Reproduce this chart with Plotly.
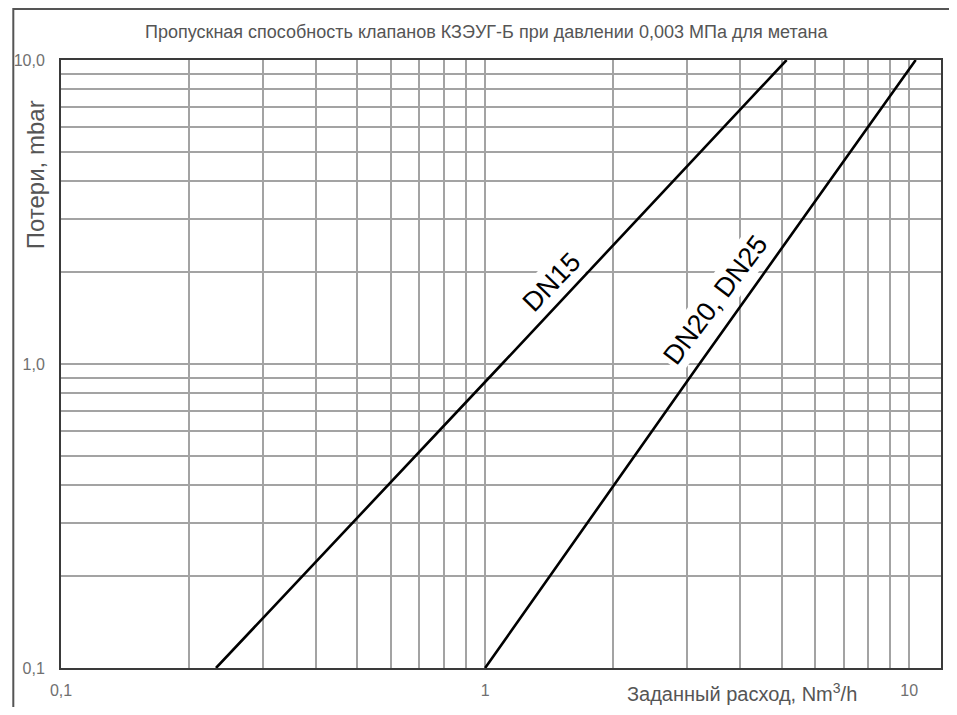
import plotly.graph_objects as go

# ---- data ----
dn15_q = [0.232, 1.096, 5.14]
dn15_dp = [0.1, 1.0, 10.0]
dn20_q = [1.0, 3.2, 10.36]
dn20_dp = [0.1, 1.0, 10.0]

x_tickvals = [0.1, 0.2, 0.3, 0.4, 0.5, 0.6, 0.7, 0.8, 0.9,
              1, 2, 3, 4, 5, 6, 7, 8, 9, 10]
x_ticktext = ["0,1", "", "", "", "", "", "", "", "",
              "1", "", "", "", "", "", "", "", "", "10"]
y_tickvals = [0.1, 0.2, 0.3, 0.4, 0.5, 0.6, 0.7, 0.8, 0.9,
              1, 2, 3, 4, 5, 6, 7, 8, 9, 10]
y_ticktext = ["0,1", "", "", "", "", "", "", "", "",
              "1,0", "", "", "", "", "", "", "", "", "10,0"]

title_text = "Пропускная способность клапанов КЗЭУГ-Б при давлении 0,003 МПа для метана"
x_title = "Заданный расход, Nm<sup>3</sup>/h"
y_title = "Потери, mbar"
label_dn15 = "DN15"
label_dn20 = "DN20, DN25"

FONT = "Liberation Sans, Arial, sans-serif"
GRID = "#a3a3a3"

fig = go.Figure()
fig.add_trace(go.Scatter(x=dn15_q, y=dn15_dp, mode="lines",
                         line=dict(color="black", width=2.6), showlegend=False))
fig.add_trace(go.Scatter(x=dn20_q, y=dn20_dp, mode="lines",
                         line=dict(color="black", width=2.6), showlegend=False))

fig.update_xaxes(type="log", range=[-1, 1.075],
                 tickvals=x_tickvals, ticktext=x_ticktext,
                 showgrid=True, gridcolor=GRID, gridwidth=1.5,
                 showline=True, mirror=True, linecolor="#3a3a3a", linewidth=2,
                 ticks="outside", ticklen=7, tickcolor="rgba(0,0,0,0)",
                 tickfont=dict(family=FONT, size=16, color="#707070"),
                 zeroline=False)
fig.update_yaxes(type="log", range=[-1, 1],
                 tickvals=y_tickvals, ticktext=y_ticktext,
                 showgrid=True, gridcolor=GRID, gridwidth=1.5,
                 showline=True, mirror=True, linecolor="#3a3a3a", linewidth=2,
                 ticks="outside", ticklen=11, tickcolor="rgba(0,0,0,0)",
                 tickfont=dict(family=FONT, size=16, color="#707070"),
                 zeroline=False)

annotations = [
    dict(text=title_text, xref="paper", yref="paper", x=0.484, y=1.046,
         xanchor="center", yanchor="middle", showarrow=False,
         font=dict(family=FONT, size=18, color="#555555")),
    dict(text=x_title, xref="paper", yref="paper", x=0.774, y=-0.041,
         xanchor="center", yanchor="middle", showarrow=False,
         font=dict(family=FONT, size=20, color="#555555")),
    dict(text=y_title, xref="paper", yref="paper", x=-0.028, y=0.811,
         xanchor="center", yanchor="middle", showarrow=False, textangle=-90,
         font=dict(family=FONT, size=24, color="#555555")),
    dict(text=label_dn15, xref="x", yref="y", x=0.157, y=0.270,
         xanchor="center", yanchor="middle", showarrow=False, textangle=-46,
         bgcolor="white", borderpad=2,
         font=dict(family=FONT, size=27, color="black")),
    dict(text=label_dn20, xref="x", yref="y", x=0.543, y=0.2105,
         xanchor="center", yanchor="middle", showarrow=False, textangle=-53,
         bgcolor="white", borderpad=2,
         font=dict(family=FONT, size=27, color="black")),
]

shapes = [
    dict(type="rect", xref="paper", yref="paper",
         x0=-0.0542, x1=1.3, y0=-0.3, y1=1.0839,
         line=dict(color="#555555", width=2), layer="below"),
]

fig.update_layout(
    width=941, height=699,
    margin=dict(l=49, r=6, t=52, b=39),
    paper_bgcolor="white", plot_bgcolor="white",
    annotations=annotations, shapes=shapes,
    showlegend=False,
)

fig.write_html("out.html")
